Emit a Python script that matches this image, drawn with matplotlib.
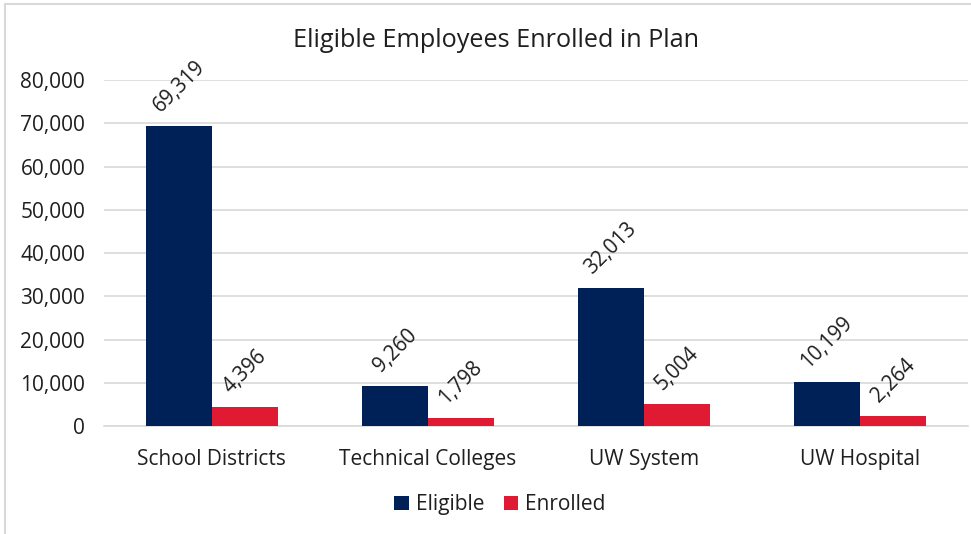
import numpy as np
import matplotlib.pyplot as plt
from matplotlib.patches import Rectangle

plt.rcParams['font.family'] = ['Open Sans', 'DejaVu Sans']

categories = ['School Districts', 'Technical Colleges', 'UW System', 'UW Hospital']
eligible = [69319, 9260, 32013, 10199]
enrolled = [4396, 1798, 5004, 2264]
y_ticks = [0, 10000, 20000, 30000, 40000, 50000, 60000, 70000, 80000]

NAVY = '#002157'
RED = '#E01A33'
TEXT = '#1f1f1f'

fig = plt.figure(figsize=(9.71, 5.34), dpi=100)
ax = fig.add_axes([0.107, 0.202, 0.890, 0.648])

x = np.arange(len(categories))
w = 0.305
b1 = ax.bar(x - w / 2, eligible, w, color=NAVY, label='Eligible', zorder=3)
b2 = ax.bar(x + w / 2, enrolled, w, color=RED, label='Enrolled', zorder=3)

# rotated value labels above each bar
for bars, vals in ((b1, eligible), (b2, enrolled)):
    for rect, v in zip(bars, vals):
        ax.annotate(f'{v:,}', (rect.get_x() + rect.get_width() / 2, v),
                    xytext=(0, 7), textcoords='offset points',
                    rotation=45, ha='center', va='bottom',
                    fontsize=14.8, color=TEXT)

ax.set_xlim(-0.5, len(categories) - 0.5)
ax.set_ylim(0, 80000)
ax.set_yticks(y_ticks)
ax.set_yticklabels([f'{t:,}' for t in y_ticks])
ax.set_xticks(x)
ax.set_xticklabels(categories)
ax.tick_params(axis='both', length=0, labelsize=15, colors=TEXT)
ax.tick_params(axis='x', pad=16.5)
ax.tick_params(axis='y', pad=13.5)
ax.grid(axis='y', color='#d9d9d9', linewidth=1.2, zorder=0)
for s in ('top', 'right', 'left'):
    ax.spines[s].set_visible(False)
ax.spines['bottom'].set_color('#d9d9d9')
ax.spines['bottom'].set_linewidth(1.2)

fig.suptitle('Eligible Employees Enrolled in Plan', x=0.511, y=0.948,
             fontsize=18.2, color=TEXT)

fig.legend(handles=[b1, b2], loc='center', bbox_to_anchor=(0.515, 0.055),
           ncol=2, frameon=False, fontsize=15, handlelength=0.7,
           handleheight=0.7, handletextpad=0.35, columnspacing=0.9,
           labelcolor=TEXT)

# thin chart frame
fig.patches.append(Rectangle((4.5 / 971, -0.1), 1.2, 1.1 - 3.5 / 534,
                             transform=fig.transFigure, fill=False,
                             edgecolor='#d9d9d9', linewidth=1.5))

fig.savefig('out.png', dpi=100)
